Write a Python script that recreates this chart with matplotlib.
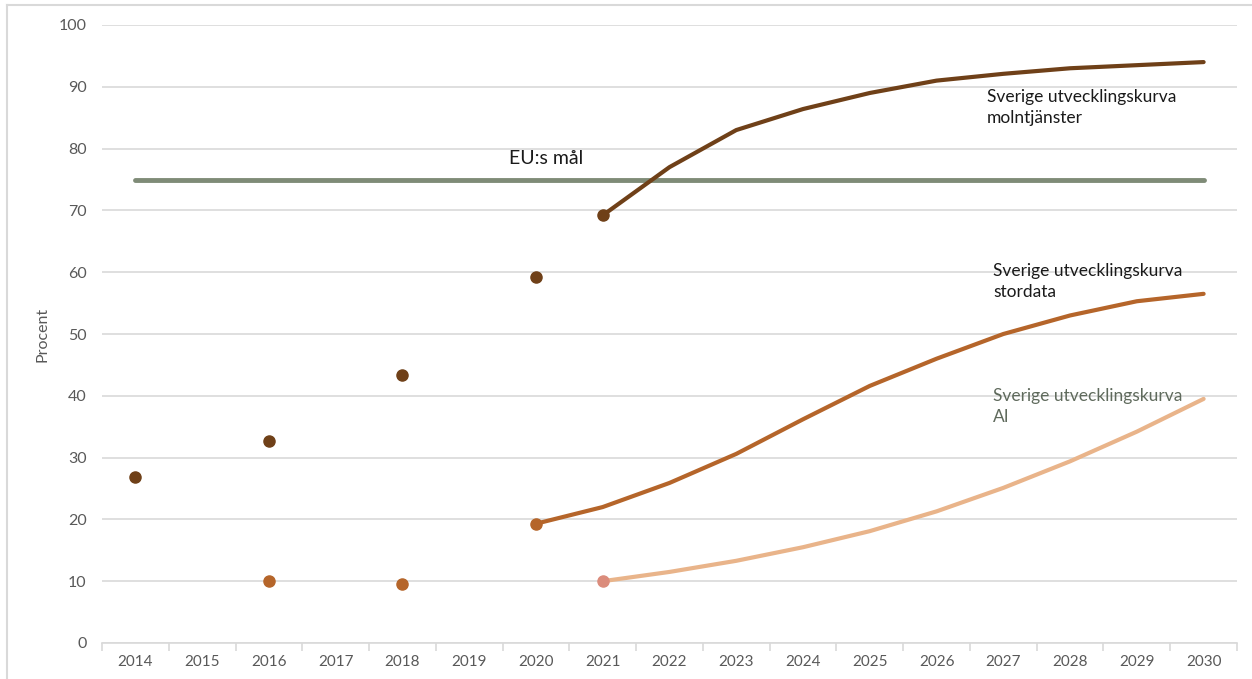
import matplotlib
matplotlib.use("Agg")
import matplotlib.pyplot as plt
from matplotlib.lines import Line2D
import numpy as np

plt.rcParams['font.family'] = ['Lato', 'DejaVu Sans']

years = [str(y) for y in range(2014, 2031)]

# Observed values (scatter points)
moln_obs_years = ["2014", "2016", "2018", "2020"]
moln_obs = [26.8, 32.7, 43.4, 59.2]
stor_obs_years = ["2016", "2018"]
stor_obs = [10.0, 9.5]

# Development curves
moln_curve_years = [str(y) for y in range(2021, 2031)]
moln_curve = [69.2, 77.0, 83.0, 86.4, 89.0, 91.0, 92.1, 93.0, 93.5, 94.0]
stor_curve_years = [str(y) for y in range(2020, 2031)]
stor_curve = [19.3, 22.0, 25.9, 30.6, 36.2, 41.6, 46.0, 50.0, 53.0, 55.3, 56.5]
ai_curve_years = [str(y) for y in range(2021, 2031)]
ai_curve = [10.0, 11.5, 13.3, 15.5, 18.1, 21.3, 25.1, 29.4, 34.2, 39.5]

eu_target = 75

c_moln = "#6F4018"
c_stor = "#B5652A"
c_ai = "#E9B48A"
c_ai_marker = "#DB8C7C"
c_eu = "#7F8B77"
c_text = "#595959"
c_grid = "#D9D9D9"

pos = {y: i for i, y in enumerate(years)}

fig = plt.figure(figsize=(12.52, 6.79), dpi=100)
ax = fig.add_axes([102 / 1252, 1 - 643 / 679, (1237 - 102) / 1252, (643 - 25) / 679])

ax.set_xlim(-0.5, len(years) - 0.5)
ax.set_ylim(0, 100)
ax.set_yticks(range(0, 101, 10))
ax.set_xticks(range(len(years)))
ax.set_xticklabels(years)
ax.grid(axis='y', color=c_grid, linewidth=1.2)
ax.set_axisbelow(True)
for s in ['top', 'right', 'left']:
    ax.spines[s].set_visible(False)
ax.spines['bottom'].set_color(c_grid)
ax.spines['bottom'].set_linewidth(1.2)
ax.tick_params(axis='y', length=0, pad=11, labelsize=11.5, labelcolor=c_text)
ax.tick_params(axis='x', length=0, pad=9, labelsize=11, labelcolor=c_text)
# category boundary ticks
ax.set_xticks(np.arange(-0.5, len(years), 1.0), minor=True)
ax.tick_params(axis='x', which='minor', length=6, color=c_grid, width=1.2)

ax.set_ylabel("Procent", fontsize=11.5, color=c_text, labelpad=7)

# EU target line
ax.plot([pos[years[0]], pos[years[-1]]], [eu_target, eu_target],
        color=c_eu, linewidth=3.5, solid_capstyle='round', zorder=2)

# Scatter observations
ax.plot([pos[y] for y in moln_obs_years], moln_obs, 'o', color=c_moln,
        markersize=8, zorder=4)
ax.plot([pos[y] for y in stor_obs_years], stor_obs, 'o', color=c_stor,
        markersize=8, zorder=4)

# Curves
ax.plot([pos[y] for y in moln_curve_years], moln_curve, color=c_moln,
        linewidth=3, solid_capstyle='round', zorder=3)
ax.plot(pos[moln_curve_years[0]], moln_curve[0], 'o', color=c_moln,
        markersize=8, zorder=4)
ax.plot([pos[y] for y in stor_curve_years], stor_curve, color=c_stor,
        linewidth=3, solid_capstyle='round', zorder=3)
ax.plot(pos[stor_curve_years[0]], stor_curve[0], 'o', color=c_stor,
        markersize=8, zorder=4)
ax.plot([pos[y] for y in ai_curve_years], ai_curve, color=c_ai,
        linewidth=3, solid_capstyle='round', zorder=3)
ax.plot(pos[ai_curve_years[0]], ai_curve[0], 'o', color=c_ai_marker,
        markersize=8, zorder=4)

# Annotations
ax.text(pos["2020"] - 0.4, 77.0, "EU:s mål", fontsize=14, color="#1a1a1a",
        va='bottom', ha='left')
ax.text(pos["2027"] - 0.25, 89.7, "Sverige utvecklingskurva\nmolntjänster",
        fontsize=12.5, color="#1a1a1a", va='top', ha='left', linespacing=1.4)
ax.text(pos["2027"] - 0.15, 61.5, "Sverige utvecklingskurva\nstordata",
        fontsize=12.5, color="#1a1a1a", va='top', ha='left', linespacing=1.4)
ax.text(pos["2027"] - 0.15, 41.3, "Sverige utvecklingskurva\nAI",
        fontsize=12.5, color="#5f6a5c", va='top', ha='left', linespacing=1.4)

# Figure frame (left and top edges)
fig.add_artist(Line2D([7 / 1252, 7 / 1252], [0, 1 - 5 / 679],
                      transform=fig.transFigure, color=c_grid, linewidth=1.5))
fig.add_artist(Line2D([7 / 1252, 1], [1 - 5 / 679, 1 - 5 / 679],
                      transform=fig.transFigure, color=c_grid, linewidth=1.5))

fig.savefig("out.png", dpi=100, facecolor='white')
